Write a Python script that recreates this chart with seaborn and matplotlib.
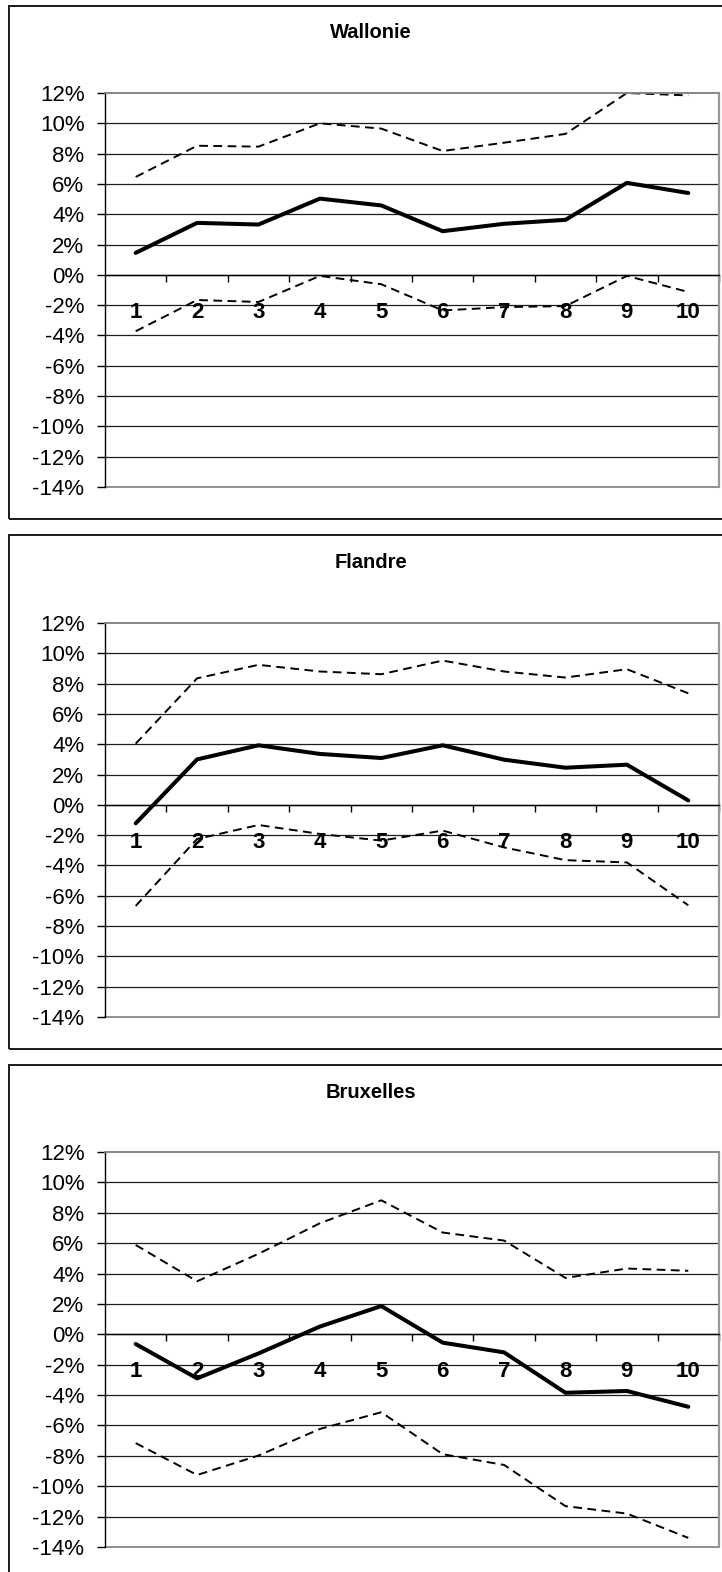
import numpy as np
import pandas as pd
import matplotlib.pyplot as plt
import matplotlib.patches as mpatches
import seaborn as sns

# deciles 1..10
deciles = [1, 2, 3, 4, 5, 6, 7, 8, 9, 10]
regions = ['Wallonie', 'Flandre', 'Bruxelles']

# valeurs en % (estimation centrale + bornes de l'intervalle)
wallonie_mid = [1.45, 3.43, 3.32, 5.03, 4.58, 2.88, 3.37, 3.63, 6.07, 5.40]
wallonie_up = [6.46, 8.52, 8.46, 10.0, 9.65, 8.17, 8.72, 9.30, 12.0, 11.84]
wallonie_low = [-3.72, -1.66, -1.79, -0.07, -0.62, -2.35, -2.13, -2.06, -0.07, -1.13]

flandre_mid = [-1.22, 3.0, 3.93, 3.36, 3.09, 3.93, 2.98, 2.45, 2.65, 0.29]
flandre_up = [4.04, 8.35, 9.24, 8.80, 8.62, 9.52, 8.80, 8.40, 8.95, 7.36]
flandre_low = [-6.67, -2.25, -1.33, -1.92, -2.36, -1.70, -2.81, -3.65, -3.80, -6.63]

bruxelles_mid = [-0.64, -2.90, -1.26, 0.51, 1.86, -0.55, -1.19, -3.85, -3.73, -4.77]
bruxelles_up = [5.88, 3.49, 5.30, 7.31, 8.82, 6.70, 6.17, 3.71, 4.33, 4.18]
bruxelles_low = [-7.16, -9.26, -7.98, -6.23, -5.13, -7.89, -8.60, -11.31, -11.80, -13.40]

y_ticks = list(range(-14, 13, 2))

series = {
    'Wallonie': (wallonie_mid, wallonie_up, wallonie_low),
    'Flandre': (flandre_mid, flandre_up, flandre_low),
    'Bruxelles': (bruxelles_mid, bruxelles_up, bruxelles_low),
}

sns.set_style('white')
plt.rcParams['font.family'] = ['Liberation Sans', 'DejaVu Sans']
plt.rcParams['text.color'] = 'black'
plt.rcParams['xtick.color'] = 'black'
plt.rcParams['ytick.color'] = 'black'
plt.rcParams['xtick.labelcolor'] = 'black'
plt.rcParams['ytick.labelcolor'] = 'black'

W, H = 722, 1572
fig = plt.figure(figsize=(W / 100, H / 100), dpi=100)

# positions en pixels (haut du cadre, haut/bas de la zone de tracé, titre)
layout = [
    dict(box_top=6, box_bot=519, ax_top=93, ax_bot=487, title_y=32),
    dict(box_top=535, box_bot=1049, ax_top=623, ax_bot=1017, title_y=562),
    dict(box_top=1065, box_bot=1590, ax_top=1152, ax_bot=1547, title_y=1093),
]

ax_left, ax_right = 105, 719

for name, lay in zip(regions, layout):
    mid, up, low = series[name]

    # cadre du graphique
    rect = mpatches.Rectangle((9 / W, 1 - lay['box_bot'] / H), (745 - 9) / W,
                              (lay['box_bot'] - lay['box_top']) / H,
                              transform=fig.transFigure, fill=False,
                              edgecolor='#1a1a1a', linewidth=1.4)
    fig.add_artist(rect)
    fig.text(371 / W, 1 - lay['title_y'] / H, name, ha='center', va='center',
             fontsize=14.5, fontweight='bold', color='black')

    ax = fig.add_axes([ax_left / W, 1 - lay['ax_bot'] / H,
                       (ax_right - ax_left) / W,
                       (lay['ax_bot'] - lay['ax_top']) / H])

    df = pd.DataFrame({
        'decile': deciles * 3,
        'valeur': mid + up + low,
        'serie': ['mid'] * 10 + ['up'] * 10 + ['low'] * 10,
    })
    sns.lineplot(data=df, x='decile', y='valeur', style='serie', size='serie',
                 dashes={'mid': '', 'up': (4.5, 2.8), 'low': (4.5, 2.8)},
                 sizes={'mid': 2.9, 'up': 1.4, 'low': 1.4},
                 color='black', legend=False, ax=ax, estimator=None,
                 sort=False)

    ax.set_xlim(0.5, 10.5)
    ax.set_ylim(-14, 12)

    # grille horizontale
    for v in y_ticks:
        ax.axhline(v, color='#1e1e1e' if -14 < v < 12 else '#888888',
                   linewidth=0.9 if -14 < v < 12 else 1.3, zorder=0,
                   clip_on=False)

    ax.spines['bottom'].set_position(('data', 0))
    ax.spines['bottom'].set_color('black')
    ax.spines['bottom'].set_linewidth(1.0)
    ax.spines['left'].set_color('black')
    ax.spines['left'].set_linewidth(1.0)
    ax.spines['top'].set_color('#888888')
    ax.spines['top'].set_linewidth(1.2)
    ax.spines['right'].set_color('#999999')
    ax.spines['right'].set_linewidth(1.6)

    ax.set_yticks(y_ticks)
    ax.set_yticklabels([f'{v}%' for v in y_ticks], fontsize=16)
    ax.tick_params(axis='y', which='major', direction='out', length=5.8,
                   width=1.0, color='black', pad=9, left=True)

    ax.set_xticks([b + 0.5 for b in deciles])
    ax.set_xticklabels([])
    ax.set_xticks(deciles, minor=True)
    ax.set_xticklabels([str(d) for d in deciles], minor=True,
                       fontsize=16, fontweight='bold')
    ax.tick_params(axis='x', which='major', direction='out', length=5,
                   width=1.0, color='black', bottom=True)
    ax.tick_params(axis='x', which='minor', length=0, pad=19.5, bottom=True)

    ax.set_xlabel('')
    ax.set_ylabel('')
    ax.grid(False)

fig.savefig('out.png', dpi=100)
